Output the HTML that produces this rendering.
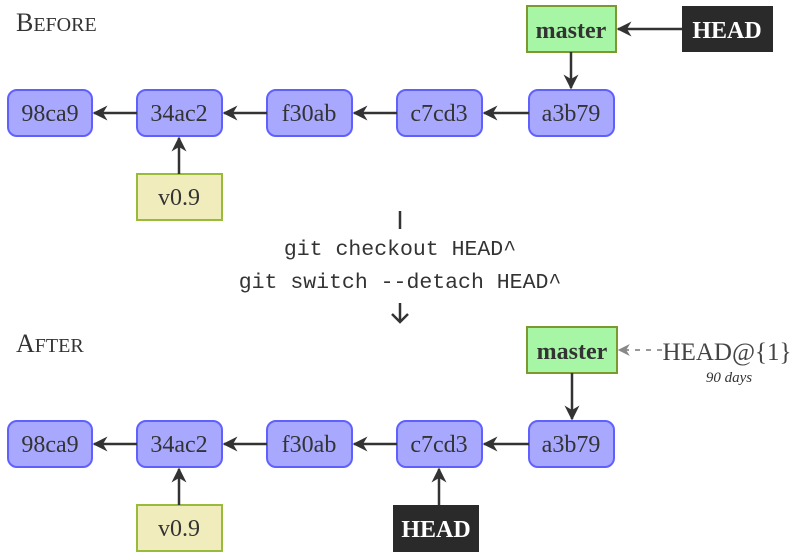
<!DOCTYPE html>
<html><head><style>body{margin:0;background:#fff}svg{display:block}</style></head><body>
<svg width="795" height="556" viewBox="0 0 795 556" xmlns="http://www.w3.org/2000/svg">
<defs>
<marker id="a" viewBox="0 0 10 10" refX="9" refY="5" markerWidth="6" markerHeight="6" orient="auto"><path d="M0,0L10,5L0,10L3,5z" fill="#333"/></marker>
<marker id="g" viewBox="0 0 10 10" refX="9" refY="5" markerWidth="6" markerHeight="6" orient="auto"><path d="M0,0L10,5L0,10L3,5z" fill="#888"/></marker>
</defs>
<style>
.c{fill:#a8a8ff;stroke:#6060ff;stroke-width:2}
.t{font-family:"Liberation Serif",serif;font-size:24px;fill:#333;text-anchor:middle}
.l{stroke:#333;stroke-width:2.5;fill:none}
</style>
<text x="16" y="31" font-family="Liberation Serif,serif" font-size="26" fill="#333">B<tspan font-size="20">EFORE</tspan></text>
<text x="16" y="352" font-family="Liberation Serif,serif" font-size="26" fill="#333">A<tspan font-size="20">FTER</tspan></text>

<g id="row1">
<rect class="c" x="8" y="90" width="84" height="46" rx="9"/><text class="t" x="50" y="121">98ca9</text>
<rect class="c" x="137" y="90" width="85" height="46" rx="9"/><text class="t" x="179" y="121">34ac2</text>
<rect class="c" x="267" y="90" width="85" height="46" rx="9"/><text class="t" x="309" y="121">f30ab</text>
<rect class="c" x="397" y="90" width="85" height="46" rx="9"/><text class="t" x="439" y="121">c7cd3</text>
<rect class="c" x="529" y="90" width="85" height="46" rx="9"/><text class="t" x="571" y="121">a3b79</text>
<line class="l" x1="137" y1="113" x2="94" y2="113" marker-end="url(#a)"/>
<line class="l" x1="267" y1="113" x2="224" y2="113" marker-end="url(#a)"/>
<line class="l" x1="397" y1="113" x2="354" y2="113" marker-end="url(#a)"/>
<line class="l" x1="529" y1="113" x2="484" y2="113" marker-end="url(#a)"/>
<rect x="137" y="174" width="85" height="46" fill="#f0ecbc" stroke="#98bb3c" stroke-width="2"/><text class="t" x="179" y="205">v0.9</text>
<line class="l" x1="179" y1="174" x2="179" y2="138" marker-end="url(#a)"/>
</g>
<rect x="527" y="6" width="89" height="46" fill="#a6f6a6" stroke="#7a9a30" stroke-width="2"/><text class="t" x="571" y="38" font-weight="bold">master</text>
<line class="l" x1="571" y1="52" x2="571" y2="88" marker-end="url(#a)"/>
<rect x="682" y="6" width="91" height="46" fill="#2a2a2a"/><text class="t" x="727" y="38" font-weight="bold" style="fill:#fff">HEAD</text>
<line class="l" x1="682" y1="29" x2="618" y2="29" marker-end="url(#a)"/>

<line class="l" x1="400" y1="211" x2="400" y2="229"/>
<text x="400" y="255" font-family="Liberation Mono,monospace" font-size="21.5" fill="#333" text-anchor="middle">git checkout HEAD^</text>
<text x="400" y="288" font-family="Liberation Mono,monospace" font-size="21.5" fill="#333" text-anchor="middle">git switch --detach HEAD^</text>
<path d="M400,303V322M392,314L400,322L408,314" class="l" stroke-width="2"/>

<use href="#row1" transform="translate(0,331)"/>
<rect x="527" y="327" width="90" height="46" fill="#a6f6a6" stroke="#7a9a30" stroke-width="2"/><text class="t" x="572" y="359" font-weight="bold">master</text>
<line class="l" x1="572" y1="373" x2="572" y2="419" marker-end="url(#a)"/>
<line x1="662" y1="350" x2="619" y2="350" stroke="#999" stroke-width="2" stroke-dasharray="5,6" marker-end="url(#g)"/>
<text x="727" y="360" font-family="Liberation Serif,serif" font-size="25" fill="#444" text-anchor="middle">HEAD@{1}</text>
<text x="729" y="382" font-family="Liberation Serif,serif" font-size="15" font-style="italic" fill="#333" text-anchor="middle">90 days</text>
<rect x="393" y="505" width="86" height="47" fill="#2a2a2a"/><text class="t" x="436" y="537" font-weight="bold" style="fill:#fff">HEAD</text>
<line class="l" x1="439" y1="505" x2="439" y2="469" marker-end="url(#a)"/>
</svg>
</body></html>
